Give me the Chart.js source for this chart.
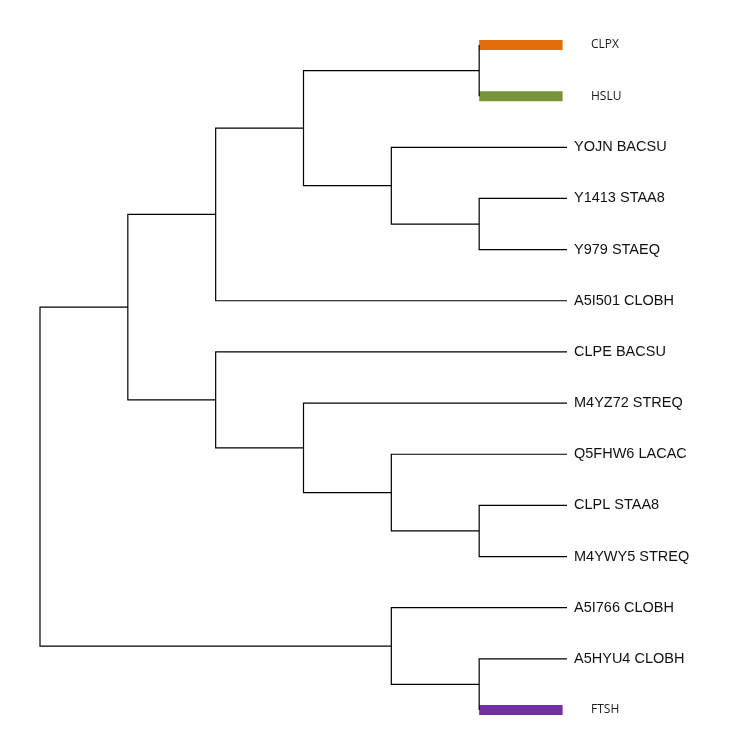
<!DOCTYPE html>
<html>
<head>
<meta charset="utf-8">
<script src="https://cdn.jsdelivr.net/npm/chart.js@4/dist/chart.umd.min.js"></script>
<style>
  html, body { margin: 0; padding: 0; background: #fff; }
  #tree { display: block; }
</style>
</head>
<body>
<canvas id="tree" width="744" height="744"></canvas>
<script>
// leaves, top to bottom
const leafNames = ['CLPX', 'HSLU', 'YOJN BACSU', 'Y1413 STAA8', 'Y979 STAEQ', 'A5I501 CLOBH',
    'CLPE BACSU', 'M4YZ72 STREQ', 'Q5FHW6 LACAC', 'CLPL STAA8', 'M4YWY5 STREQ',
    'A5I766 CLOBH', 'A5HYU4 CLOBH', 'FTSH'];

// highlighted leaves get a coloured bar instead of a branch line
const highlightNames = ['CLPX', 'HSLU', 'FTSH'];
const highlightColors = ['#E46C0A', '#77933C', '#7030A0'];

// merges: ids 0..13 are leaves, merge k gets id 14 + k
const mergeLeft   = [0, 3, 2, 14, 17, 9, 8, 7, 6, 18, 12, 11, 23];
const mergeRight  = [1, 4, 15, 16, 5, 10, 19, 20, 21, 22, 13, 24, 25];
const mergeHeight = [1, 1, 2, 3, 4, 1, 2, 3, 4, 5, 1, 2, 6];

// node positions: leaves at height 0, internal nodes centred over their children
const nodeX = leafNames.map(() => 0);
const nodeY = leafNames.map((n, i) => i);
mergeLeft.forEach((a, k) => {
    const b = mergeRight[k];
    nodeX.push(mergeHeight[k]);
    nodeY.push((nodeY[a] + nodeY[b]) / 2);
});

function isHighlighted(id) {
    return id < leafNames.length && highlightNames.includes(leafNames[id]);
}

const datasets = [];
mergeLeft.forEach((a, k) => {
    const b = mergeRight[k];
    const h = mergeHeight[k];
    const pts = [];
    if (!isHighlighted(a)) pts.push({x: nodeX[a], y: nodeY[a]});
    pts.push({x: h, y: nodeY[a]});
    pts.push({x: h, y: nodeY[b]});
    if (!isHighlighted(b)) pts.push({x: nodeX[b], y: nodeY[b]});
    datasets.push({
        data: pts,
        showLine: true,
        borderColor: '#000',
        borderWidth: 1.2,
        pointRadius: 0,
        clip: false
    });
    [a, b].forEach(c => {
        if (!isHighlighted(c)) return;
        const col = highlightColors[highlightNames.indexOf(leafNames[c])];
        datasets.push({
            data: [{x: h, y: nodeY[c]}, {x: 0.05, y: nodeY[c]}],
            showLine: true,
            borderColor: col,
            borderWidth: 10,
            pointRadius: 0,
            clip: false
        });
    });
});

const leafLabels = {
    id: 'leafLabels',
    afterDatasetsDraw(chart) {
        const c = chart.ctx;
        const xs = chart.scales.x, ys = chart.scales.y;
        c.save();
        c.textBaseline = 'middle';
        c.textAlign = 'left';
        leafNames.forEach((name, i) => {
            const px = xs.getPixelForValue(0);
            const py = ys.getPixelForValue(i);
            if (highlightNames.includes(name)) {
                c.font = '12px "Open Sans", sans-serif';
                c.fillStyle = '#1a1a1a';
                c.fillText(name, px + 24, py);
            } else {
                c.font = '14.5px "Liberation Sans", Arial, sans-serif';
                c.fillStyle = '#111';
                c.fillText(name, px + 7, py);
            }
        });
        c.restore();
    }
};

new Chart(document.getElementById('tree').getContext('2d'), {
    type: 'scatter',
    data: { datasets: datasets },
    options: {
        responsive: false,
        animation: false,
        layout: { padding: { left: 40, right: 177, top: 45, bottom: 34 } },
        scales: {
            x: { type: 'linear', min: 0, max: 6, reverse: true, display: false },
            y: { type: 'linear', min: 0, max: 13, reverse: true, display: false }
        },
        plugins: {
            legend: { display: false },
            tooltip: { enabled: false }
        }
    },
    plugins: [leafLabels]
});
</script>
</body>
</html>
